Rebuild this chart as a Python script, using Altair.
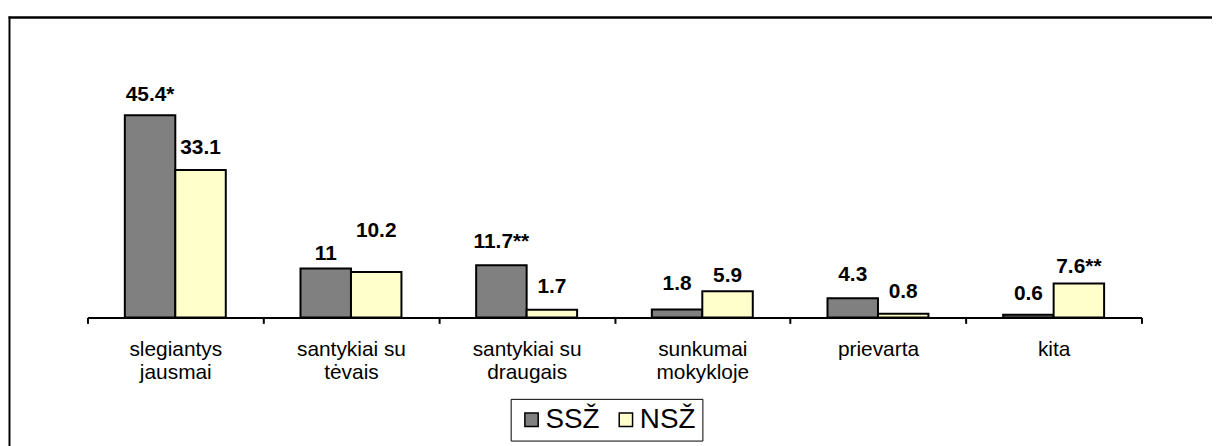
import altair as alt
import pandas as pd

categories = ["slegiantys jausmai", "santykiai su tėvais", "santykiai su draugais",
              "sunkumai mokykloje", "prievarta", "kita"]
series = ["SSŽ", "NSŽ"]
ssz_values = [45.4, 11, 11.7, 1.8, 4.3, 0.6]
nsz_values = [33.1, 10.2, 1.7, 5.9, 0.8, 7.6]
ssz_labels = ["45.4*", "11", "11.7**", "1.8", "4.3", "0.6"]
nsz_labels = ["33.1", "10.2", "1.7", "5.9", "0.8", "7.6**"]
# how far (px) each value label sits above its bar, as placed in the original
ssz_lift = [14, 8, 17.5, 20, 17, 15]
nsz_lift = [16, 35, 16.5, 9, 16, 11]
colors = ["#808080", "#FFFFCC"]

rows = []
for i, c in enumerate(categories):
    rows.append({"cat": c, "series": "SSŽ", "val": ssz_values[i],
                 "label": ssz_labels[i], "lift": ssz_lift[i]})
    rows.append({"cat": c, "series": "NSŽ", "val": nsz_values[i],
                 "label": nsz_labels[i], "lift": nsz_lift[i]})
df = pd.DataFrame(rows)

W, H = 1061, 224
YMAX = 50
FONT = "Liberation Sans"

label_expr = ("!isString(datum.value) ? '' : "
              "(lastindexof(datum.value, ' ') > 0 ? "
              "[substring(datum.value, 0, lastindexof(datum.value, ' ')), "
              "substring(datum.value, lastindexof(datum.value, ' ') + 1)] : datum.value)")

x_enc = alt.X("cat:N", sort=categories, title=None,
              scale=alt.Scale(paddingInner=0, paddingOuter=0),
              axis=alt.Axis(labelAngle=0, labelFont=FONT, labelFontSize=21,
                            labelColor="black", labelLineHeight=23.5,
                            labelPadding=15, labelExpr=label_expr,
                            domainColor="black", domainWidth=2,
                            tickColor="black", tickWidth=2, tickSize=6,
                            tickBand="extent", grid=False))
xoff_enc = alt.XOffset("series:N", sort=series,
                       scale=alt.Scale(paddingInner=0, paddingOuter=0.74))
y_scale = alt.Scale(domain=[0, YMAX], nice=False)

base = alt.Chart(df)

bars = base.mark_bar(stroke="black", strokeWidth=2).encode(
    x=x_enc, xOffset=xoff_enc,
    y=alt.Y("val:Q", scale=y_scale, axis=None),
    color=alt.Color("series:N", sort=series,
                    scale=alt.Scale(domain=series, range=colors),
                    legend=alt.Legend(title=None, orient="none", direction="horizontal",
                                      legendX=426, legendY=306,
                                      symbolType="square", symbolSize=180,
                                      symbolStrokeColor="black", symbolStrokeWidth=1.5,
                                      labelFont=FONT, labelFontSize=28,
                                      labelColor="black", labelOffset=0,
                                      columnPadding=12, padding=7,
                                      strokeColor="black", fillColor="white")),
)

labels = base.transform_calculate(
    label_y=f"datum.val + datum.lift * {YMAX} / {H}"
).mark_text(font=FONT, fontSize=21, fontWeight="bold", color="black",
            align="center", baseline="alphabetic").encode(
    x=x_enc, xOffset=xoff_enc,
    y=alt.Y("label_y:Q", scale=y_scale, axis=None),
    text="label:N",
)

frame_df = pd.DataFrame({"k": [0]})
left_line = alt.Chart(frame_df).mark_rule(color="black", strokeWidth=2).encode(
    x=alt.value(-78.5), y=alt.value(-79), y2=alt.value(H + 300))
top_line = alt.Chart(frame_df).mark_rule(color="black", strokeWidth=2.5).encode(
    x=alt.value(-79.5), x2=alt.value(W + 300), y=alt.value(-78))

chart = alt.layer(bars, labels, left_line, top_line).properties(
    width=W, height=H,
    background="white",
    autosize=alt.AutoSizeParams(type="none"),
    padding={"left": 80, "top": 86, "right": 71, "bottom": 128},
).configure_view(strokeWidth=0)

chart.save("out.html", embed_options={"renderer": "svg", "actions": False})
